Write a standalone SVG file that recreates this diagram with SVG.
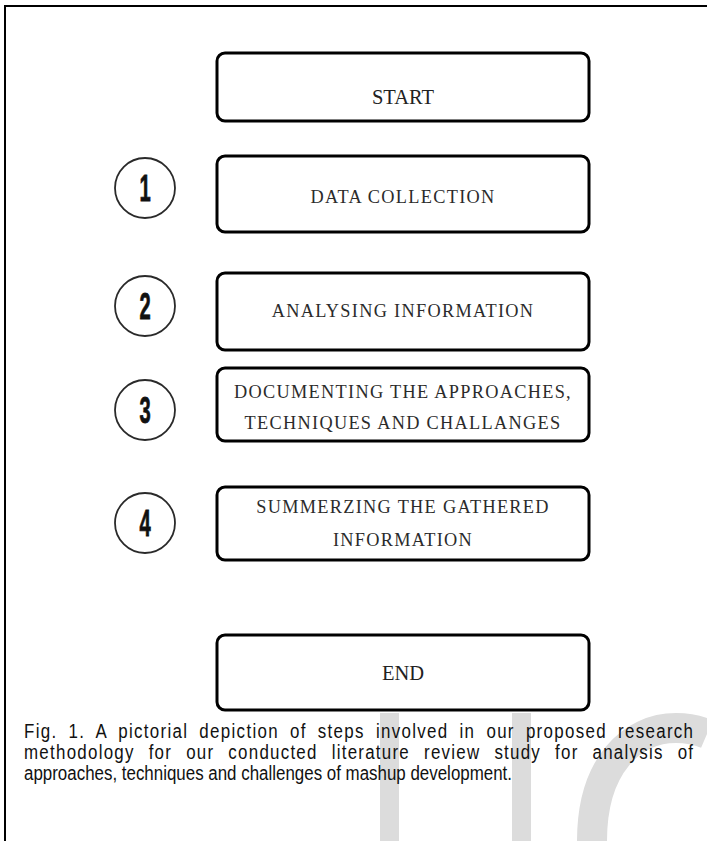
<svg xmlns="http://www.w3.org/2000/svg" width="707" height="841" viewBox="0 0 707 841">
  <style>
    .box { fill: #ffffff; stroke: #000000; stroke-width: 3; }
    .step { fill: #ffffff; stroke: #2a2a2a; stroke-width: 1.8; }
    .label { font-family: "Liberation Serif", "DejaVu Serif", serif; font-size: 18.3px; letter-spacing: 1.3px; fill: #2b2b2b; text-anchor: middle; }
    .term { font-family: "Liberation Serif", "DejaVu Serif", serif; font-size: 20.5px; fill: #222222; text-anchor: middle; }
    .num { font-family: "Liberation Sans", Arial, sans-serif; font-weight: bold; font-size: 28px; fill: #111111; text-anchor: middle; stroke: #111111; stroke-width: 0.6; }
    .caption { font-family: "Liberation Sans", Arial, sans-serif; font-size: 20px; fill: #111111; }
    .mark { fill: #dcdcdc; }
  </style>

  <rect width="707" height="841" fill="#ffffff"/>

  <!-- watermark behind the caption -->
  <g id="watermark">
    <rect class="mark" x="380" y="713" width="19" height="128"/>
    <rect class="mark" x="512" y="713" width="19" height="128"/>
    <path d="M592,841 C592,765 632,728 676,728 C690,728 700,731 707,734" fill="none" stroke="#dcdcdc" stroke-width="30"/>
  </g>

  <!-- page frame -->
  <g id="frame" fill="none" stroke="#000000" stroke-width="2">
    <line x1="4" y1="6" x2="707" y2="6"/>
    <line x1="5" y1="5" x2="5" y2="841"/>
  </g>

  <!-- flow has no drawn connectors -->
  <g id="connectors"></g>

  <g id="start">
    <rect class="box" x="217" y="53" width="372" height="68" rx="8"/>
    <text class="term" x="403" y="104">START</text>
  </g>

  <g id="step1">
    <circle class="step" cx="145" cy="188" r="30"/>
    <text class="num" transform="translate(145,201) scale(0.72,1.3)">1</text>
    <rect class="box" x="217" y="156" width="372" height="76" rx="8"/>
    <text class="label" x="403" y="203">DATA COLLECTION</text>
  </g>

  <g id="step2">
    <circle class="step" cx="145" cy="306" r="30"/>
    <text class="num" transform="translate(145,319) scale(0.72,1.3)">2</text>
    <rect class="box" x="217" y="273" width="372" height="77" rx="8"/>
    <text class="label" x="403" y="317">ANALYSING INFORMATION</text>
  </g>

  <g id="step3">
    <circle class="step" cx="145" cy="410" r="30"/>
    <text class="num" transform="translate(145,423) scale(0.72,1.3)">3</text>
    <rect class="box" x="217" y="368" width="372" height="73" rx="8"/>
    <text class="label" x="403" y="398">DOCUMENTING THE APPROACHES,</text>
    <text class="label" x="403" y="429">TECHNIQUES AND CHALLANGES</text>
  </g>

  <g id="step4">
    <circle class="step" cx="145" cy="523" r="30"/>
    <text class="num" transform="translate(145,536) scale(0.72,1.3)">4</text>
    <rect class="box" x="217" y="487" width="372" height="73" rx="8"/>
    <text class="label" x="403" y="513">SUMMERZING THE GATHERED</text>
    <text class="label" x="403" y="546">INFORMATION</text>
  </g>

  <g id="end">
    <rect class="box" x="217" y="635" width="372" height="75" rx="8"/>
    <text class="term" x="403" y="680">END</text>
  </g>

  <!-- caption set in a narrowed sans, first two lines justified -->
  <g id="caption" transform="scale(0.846,1)">
    <text class="caption" x="28.4" y="738" word-spacing="6" textLength="790.8" lengthAdjust="spacing">Fig. 1. A pictorial depiction of steps involved in our proposed research</text>
    <text class="caption" x="28.4" y="759" word-spacing="9.5" textLength="790.8" lengthAdjust="spacing">methodology for our conducted literature review study for analysis of</text>
    <text class="caption" x="28.4" y="780">approaches, techniques and challenges of mashup development.</text>
  </g>
</svg>
